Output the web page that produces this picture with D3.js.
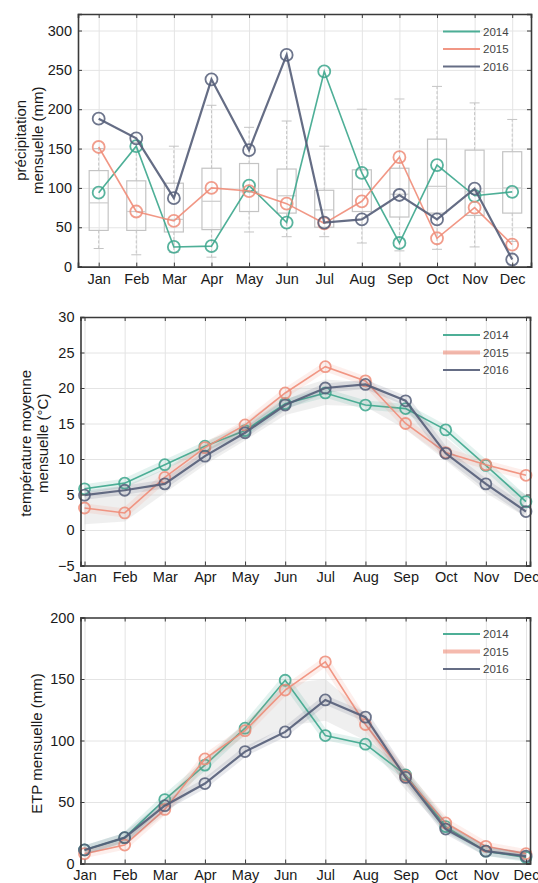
<!DOCTYPE html>
<html><head><meta charset="utf-8">
<script src="https://cdn.jsdelivr.net/npm/d3@7"></script>
<style>
body{margin:0;background:#fff;}
svg{display:block;font-family:"Liberation Sans",Arial,Helvetica,sans-serif;}
</style></head>
<body><svg id="c" width="538" height="883"></svg>
<script>
const months = ["Jan","Feb","Mar","Apr","May","Jun","Jul","Aug","Sep","Oct","Nov","Dec"];
const years = ["2014","2015","2016"];

// Précipitation mensuelle (mm)
const precip2014 = [94, 153, 25, 26, 103, 56, 248, 119, 30, 129, 90, 95];
const precip2015 = [152, 70, 58, 100, 96, 80, 55, 83, 139, 36, 75, 28];
const precip2016 = [188, 163, 87, 238, 148, 269, 56, 60, 91, 60, 99, 9];
// boxplot statistics (climatology)
const boxLow  = [23, 15, 18, 12, 44, 38, 38, 30, 20, 22, 25, 32];
const boxQ1   = [46, 46, 44, 47, 70, 68, 50, 70, 63, 68, 65, 68];
const boxMed  = [81, 70, 60, 83, 95, 90, 72, 98, 92, 102, 95, 100];
const boxQ3   = [122, 109, 106, 125, 131, 124, 97, 123, 125, 162, 148, 146];
const boxHigh = [150, 158, 153, 205, 177, 185, 153, 200, 213, 229, 208, 187];

// Température moyenne mensuelle (°C)
const temp2014 = [5.8, 6.6, 9.2, 11.8, 14.0, 17.8, 19.3, 17.6, 17.1, 14.1, 9.1, 4.0];
const temp2015 = [3.1, 2.4, 7.4, 11.6, 14.8, 19.3, 23.0, 21.0, 15.0, 10.9, 9.2, 7.7];
const temp2016 = [4.9, 5.6, 6.5, 10.4, 13.7, 17.6, 20.0, 20.5, 18.2, 10.8, 6.5, 2.6];
const tempBandLow  = [0.8, 1.2, 5.2, 9.2, 12.6, 16.2, 17.6, 17.4, 14.2, 9.8, 5.2, 1.8];
const tempBandHigh = [5.2, 6.2, 8.6, 12.2, 15.2, 19.4, 21.2, 20.8, 17.6, 13.0, 8.4, 5.0];

// ETP mensuelle (mm)
const etp2014 = [11, 21, 52, 80, 110, 149, 104, 97, 72, 30, 10, 5];
const etp2015 = [8, 15, 44, 85, 108, 141, 164, 113, 71, 33, 14, 8];
const etp2016 = [11, 21, 47, 65, 91, 107, 133, 119, 70, 28, 10, 6];
const etpBandLow  = [7, 15, 40, 68, 92, 112, 116, 100, 60, 26, 9, 5];
const etpBandHigh = [12, 22, 52, 84, 114, 146, 150, 122, 74, 33, 14, 9];

const colors = {"2014":"#3ba68c","2015":"#ef8c78","2016":"#545d78"};
const svg = d3.select("#c");

function panel(cfg){
  const g = svg.append("g");
  const x = d3.scaleLinear().domain(cfg.xdom).range([cfg.left, cfg.right]);
  const y = d3.scaleLinear().domain(cfg.ydom).range([cfg.bottom, cfg.top]);
  const idx = d3.range(1,13);
  // grid
  g.append("g").attr("transform",`translate(0,${cfg.bottom})`)
    .call(d3.axisBottom(x).tickValues(idx).tickSize(-(cfg.bottom-cfg.top)).tickFormat(""))
    .call(a=>a.select(".domain").remove())
    .call(a=>a.selectAll("line").attr("stroke","#e4e4e4").attr("stroke-width",1));
  g.append("g").attr("transform",`translate(${cfg.left},0)`)
    .call(d3.axisLeft(y).tickValues(cfg.yticks).tickSize(-(cfg.right-cfg.left)).tickFormat(""))
    .call(a=>a.select(".domain").remove())
    .call(a=>a.selectAll("line").attr("stroke","#e4e4e4").attr("stroke-width",1));
  const plot = g.append("g");
  cfg.draw(plot, x, y);
  // series
  cfg.series.forEach((s,i)=>{
    const pts = s.values.map((v,j)=>[x(j+1), y(v)]);
    const line = d3.line();
    if(cfg.halo){
      plot.append("path").attr("d",line(pts)).attr("fill","none")
        .attr("stroke",colors[s.name]).attr("stroke-opacity",0.14).attr("stroke-width",9)
        .attr("stroke-linejoin","round");
    }
    plot.append("path").attr("d",line(pts)).attr("fill","none")
      .attr("stroke",colors[s.name]).attr("stroke-width",s.name==="2016"?2.2:1.6)
      .attr("stroke-opacity",0.9);
    plot.selectAll(null).data(pts).join("circle")
      .attr("cx",d=>d[0]).attr("cy",d=>d[1]).attr("r",cfg.r)
      .attr("fill","none").attr("stroke",colors[s.name]).attr("stroke-width",1.8)
      .attr("stroke-opacity",0.85);
  });
  // box frame + ticks
  const axB = g.append("g").attr("transform",`translate(0,${cfg.bottom})`)
    .call(d3.axisBottom(x).tickValues(idx).tickSize(-4).tickPadding(cfg.xpad).tickFormat(d=>months[d-1]));
  const axT = g.append("g").attr("transform",`translate(0,${cfg.top})`)
    .call(d3.axisTop(x).tickValues(idx).tickSize(-4).tickFormat(""));
  const axL = g.append("g").attr("transform",`translate(${cfg.left},0)`)
    .call(d3.axisLeft(y).tickValues(cfg.yticks).tickSize(-4).tickPadding(6));
  const axR = g.append("g").attr("transform",`translate(${cfg.right},0)`)
    .call(d3.axisRight(y).tickValues(cfg.yticks).tickSize(-4).tickFormat(""));
  [axB,axT,axL,axR].forEach(a=>{
    a.select(".domain").attr("stroke","#3a3a3a").attr("stroke-width",1.6);
    a.selectAll(".tick line").attr("stroke","#3a3a3a");
    a.selectAll("text").attr("font-size",14.5).attr("fill","#1a1a1a")
      .attr("font-family","Liberation Sans, Arial, sans-serif");
  });
  // y title
  const cy = (cfg.top+cfg.bottom)/2 + (cfg.titleDy||0);
  cfg.title.forEach((t,k)=>{
    g.append("text").attr("transform",`translate(${cfg.titleX[k]},${cy}) rotate(-90)`)
      .attr("text-anchor","middle").attr("dominant-baseline","central")
      .attr("font-size",15).attr("fill","#1a1a1a").text(t);
  });
  // legend
  cfg.series.forEach((s,i)=>{
    const ly = cfg.top + cfg.legTop + i*17.5;
    g.append("line").attr("x1",443).attr("x2",480).attr("y1",ly).attr("y2",ly)
      .attr("stroke",colors[s.name]).attr("stroke-width",cfg.halo && s.name==="2015"?4:1.8)
      .attr("stroke-opacity",cfg.halo && s.name==="2015"?0.6:0.9);
    g.append("text").attr("x",483).attr("y",ly).attr("dominant-baseline","central")
      .attr("font-size",11.5).attr("fill","#444").text(s.name);
  });
}

// Panel 1 : précipitation
panel({
  left:78, right:531, top:14, bottom:266.6, xdom:[0.45,12.5], ydom:[0,321],
  yticks:[0,50,100,150,200,250,300], r:6, xpad:7, halo:false,
  title:["précipitation","mensuelle (mm)"], titleX:[20,37],
  legTop:17.5,
  series:[{name:"2014",values:precip2014},{name:"2015",values:precip2015},{name:"2016",values:precip2016}],
  draw:(p,x,y)=>{
    const bw = 9.5;
    months.forEach((m,j)=>{
      const cx = x(j+1);
      const st = "#c4c4c4";
      p.append("line").attr("x1",cx).attr("x2",cx).attr("y1",y(boxQ3[j])).attr("y2",y(boxHigh[j]))
        .attr("stroke",st).attr("stroke-dasharray","3,2");
      p.append("line").attr("x1",cx).attr("x2",cx).attr("y1",y(boxQ1[j])).attr("y2",y(boxLow[j]))
        .attr("stroke",st).attr("stroke-dasharray","3,2");
      p.append("line").attr("x1",cx-5).attr("x2",cx+5).attr("y1",y(boxHigh[j])).attr("y2",y(boxHigh[j])).attr("stroke",st);
      p.append("line").attr("x1",cx-5).attr("x2",cx+5).attr("y1",y(boxLow[j])).attr("y2",y(boxLow[j])).attr("stroke",st);
      p.append("rect").attr("x",cx-bw).attr("width",2*bw).attr("y",y(boxQ3[j]))
        .attr("height",y(boxQ1[j])-y(boxQ3[j])).attr("fill","none").attr("stroke",st).attr("stroke-width",1.2);
      p.append("line").attr("x1",cx-bw).attr("x2",cx+bw).attr("y1",y(boxMed[j])).attr("y2",y(boxMed[j]))
        .attr("stroke","#cdcdcd").attr("stroke-width",1.2);
    });
  }
});

function band(lo, hi){
  return (p,x,y)=>{
    const area = d3.area().x((d,j)=>x(j+1)).y0(d=>y(d[0])).y1(d=>y(d[1]));
    const data = lo.map((v,j)=>[v,hi[j]]);
    p.append("path").attr("d",area(data)).attr("fill","#cccccc").attr("fill-opacity",0.32);
  };
}

// Panel 2 : température
panel({
  left:80.5, right:530, top:317, bottom:565.5, xdom:[0.9,12.1], ydom:[-5,30],
  yticks:[-5,0,5,10,15,20,25,30], r:5.5, xpad:6, halo:true,
  title:["température moyenne","mensuelle (°C)"], titleX:[25,42], titleDy:2,
  legTop:18,
  series:[{name:"2014",values:temp2014},{name:"2015",values:temp2015},{name:"2016",values:temp2016}],
  draw:band(tempBandLow,tempBandHigh)
});

// Panel 3 : ETP
panel({
  left:80.5, right:530, top:617.5, bottom:863.5, xdom:[0.9,12.1], ydom:[0,200],
  yticks:[0,50,100,150,200], r:5.5, xpad:6, halo:true,
  title:["ETP mensuelle (mm)"], titleX:[36], titleDy:3,
  legTop:16.5,
  series:[{name:"2014",values:etp2014},{name:"2015",values:etp2015},{name:"2016",values:etp2016}],
  draw:band(etpBandLow,etpBandHigh)
});
</script></body></html>
